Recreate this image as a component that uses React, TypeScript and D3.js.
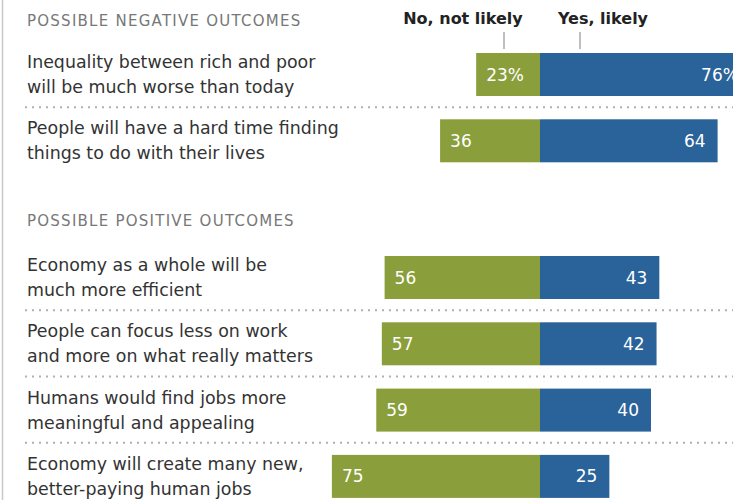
import React from "react";
import * as d3 from "d3";

const sectionTitles = ["POSSIBLE NEGATIVE OUTCOMES", "POSSIBLE POSITIVE OUTCOMES"];
const negativeLabels = [
  ["Inequality between rich and poor", "will be much worse than today"],
  ["People will have a hard time finding", "things to do with their lives"],
];
const negativeNo = [23, 36];
const negativeYes = [76, 64];
const positiveLabels = [
  ["Economy as a whole will be", "much more efficient"],
  ["People can focus less on work", "and more on what really matters"],
  ["Humans would find jobs more", "meaningful and appealing"],
  ["Economy will create many new,", "better-paying human jobs"],
];
const positiveNo = [56, 57, 59, 75];
const positiveYes = [43, 42, 40, 25];
const legendLabels = ["No, not likely", "Yes, likely"];

const GREEN = "#8a9e3b";
const BLUE = "#2a6399";
const FONT = "'DejaVu Sans', Verdana, sans-serif";

export default function App() {
  const W = 733;
  const H = 500;
  const x0 = 540;
  const x = d3.scaleLinear().domain([0, 100]).range([0, 277.5]);
  const barH = 43;
  const pitch = 66.3;

  const groups = [
    { title: sectionTitles[0], titleY: 26, top: 53, labels: negativeLabels, no: negativeNo, yes: negativeYes },
    { title: sectionTitles[1], titleY: 226, top: 256, labels: positiveLabels, no: positiveNo, yes: positiveYes },
  ];

  return (
    <svg width={W} height={H} style={{ position: "absolute", left: 0, top: 0, background: "#fff" }} fontFamily={FONT}>
      <line x1={2.5} x2={2.5} y1={0} y2={H} stroke="#c8c8c8" strokeWidth={1.5} />
      {/* legend */}
      <text x={463} y={24} textAnchor="middle" fontWeight="bold" fontSize={16} fill="#222">{legendLabels[0]}</text>
      <text x={603} y={24} textAnchor="middle" fontWeight="bold" fontSize={16} fill="#222">{legendLabels[1]}</text>
      <line x1={504} x2={504} y1={32} y2={49} stroke="#aaa" strokeWidth={1.5} />
      <line x1={580} x2={580} y1={32} y2={49} stroke="#aaa" strokeWidth={1.5} />
      {groups.map((g, gi) => (
        <g key={gi}>
          <text x={27} y={g.titleY} fontSize={15} fill="#777" letterSpacing={1.25}>{g.title}</text>
          {g.labels.map((lab, i) => {
            const y = g.top + i * pitch;
            const nw = x(g.no[i]);
            const yw = x(g.yes[i]);
            const first = gi === 0 && i === 0;
            return (
              <g key={i}>
                {i > 0 && (
                  <line x1={25} x2={W} y1={y - (pitch - barH) / 2 - 0.5} y2={y - (pitch - barH) / 2 - 0.5}
                    stroke="#b0b0b0" strokeWidth={2} strokeDasharray="2,5" />
                )}
                <text x={27} y={y + 15} fontSize={17.4} fill="#333">{lab[0]}</text>
                <text x={27} y={y + 40} fontSize={17.4} fill="#333">{lab[1]}</text>
                <rect x={x0 - nw} y={y} width={nw} height={barH} fill={GREEN} />
                <rect x={x0} y={y} width={yw} height={barH} fill={BLUE} />
                <text x={x0 - nw + 10} y={y + barH / 2 + 6} fontSize={17} fill="#fff">
                  {g.no[i] + (first ? "%" : "")}
                </text>
                <text x={x0 + yw - 12} y={y + barH / 2 + 6} fontSize={17} fill="#fff" textAnchor="end">
                  {g.yes[i] + (first ? "%" : "")}
                </text>
              </g>
            );
          })}
        </g>
      ))}
    </svg>
  );
}
